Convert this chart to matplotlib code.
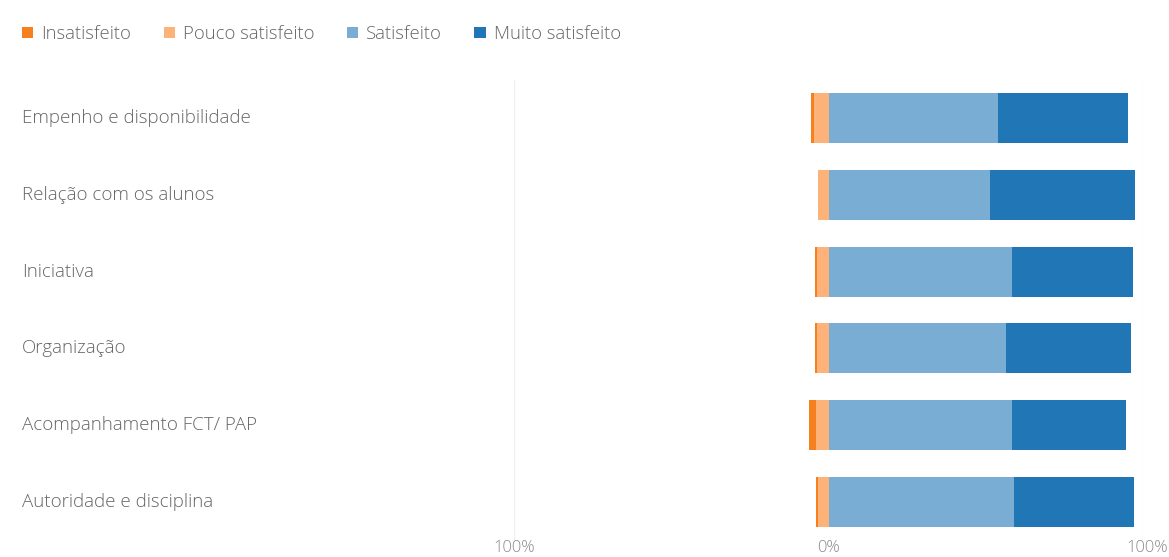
import matplotlib
matplotlib.use("Agg")
import matplotlib.pyplot as plt
import matplotlib.transforms as mtransforms
from matplotlib.patches import Patch
import numpy as np

categories = ["Empenho e disponibilidade", "Relação com os alunos", "Iniciativa",
              "Organização", "Acompanhamento FCT/ PAP", "Autoridade e disciplina"]
series_names = ["Insatisfeito", "Pouco satisfeito", "Satisfeito", "Muito satisfeito"]
insatisfeito = [1.0, 0.0, 0.5, 0.5, 2.0, 0.7]
pouco = [4.7, 3.2, 3.8, 3.8, 4.1, 3.4]
satisfeito = [54.0, 51.5, 58.5, 56.3, 58.2, 58.9]
muito = [41.2, 45.8, 38.2, 39.9, 36.4, 38.1]
tick_vals = [-100, 0, 100]
tick_labels = ["100%", "0%", "100%"]

colors = ["#f7801e", "#fdb27a", "#7aadd4", "#2176b5"]
text_col = "#666666"

plt.rcParams['font.family'] = ['Open Sans', 'DejaVu Sans']

fig = plt.figure(figsize=(11.69, 5.57), dpi=100)
ax = fig.add_axes([514/1169, 1-540/557, (1143-514)/1169, 460/557])

y = np.arange(len(categories))
h = 0.65
ins = np.array(insatisfeito); pc = np.array(pouco)
st = np.array(satisfeito); mt = np.array(muito)
ax.barh(y, -pc, left=0, height=h, color=colors[1])
ax.barh(y, -ins, left=-pc, height=h, color=colors[0])
ax.barh(y, st, left=0, height=h, color=colors[2])
ax.barh(y, mt, left=st, height=h, color=colors[3])

ax.set_xlim(-100, 100)
ax.set_ylim(len(categories) - 0.5, -0.5)
for v in (-100, 100):
    ax.axvline(v, color="#f0f0f0", lw=1, zorder=0)
for s in ax.spines.values():
    s.set_visible(False)
ax.set_yticks([])
ax.set_xticks(tick_vals)
ax.set_xticklabels(tick_labels, color="#8a8a8a", fontsize=12, fontweight='light')
ax.tick_params(axis='x', length=0, pad=0)
xl = ax.get_xticklabels()
xl[-1].set_horizontalalignment('right')
xl[-1].set_transform(xl[-1].get_transform() +
                     mtransforms.ScaledTranslation(25/100, 0, fig.dpi_scale_trans))

trans = mtransforms.blended_transform_factory(fig.transFigure, ax.transData)
for yi, cat in zip(y, categories):
    ax.text(22/1169, yi, cat, transform=trans, ha='left', va='center',
            fontsize=13.5, color=text_col, fontweight='light')

handles = [Patch(facecolor=c, edgecolor='none') for c in colors]
leg = fig.legend(handles, series_names, loc='center left', bbox_to_anchor=(22/1169, 1-34/557),
                 ncol=4, frameon=False, handlelength=0.62, handleheight=0.62,
                 handletextpad=0.43, columnspacing=1.75, borderaxespad=0, borderpad=0,
                 prop={'size': 13.3, 'weight': 'light'}, labelcolor=text_col)

fig.savefig("out.png", dpi=100)
